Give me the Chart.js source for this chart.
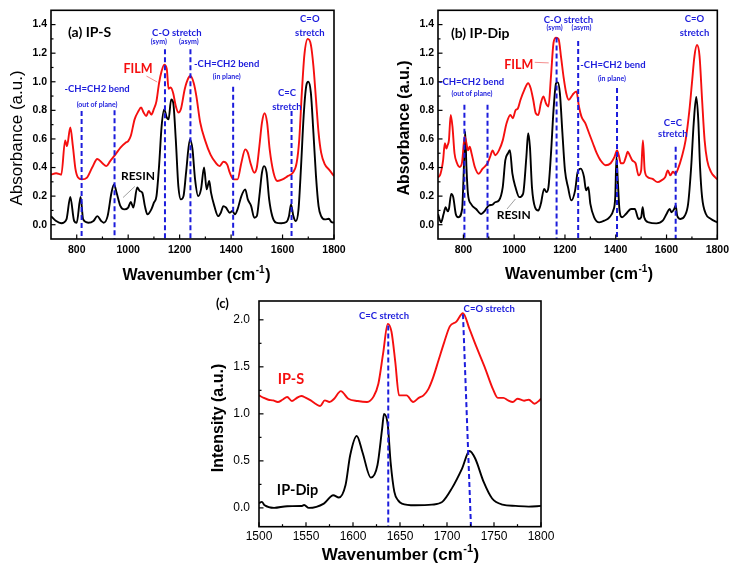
<!DOCTYPE html>
<html><head><meta charset="utf-8">
<script src="https://cdn.jsdelivr.net/npm/chart.js@4/dist/chart.umd.min.js"></script>
<style>
body{margin:0;background:#fff;width:734px;height:576px;position:relative;overflow:hidden}
canvas{position:absolute}
</style>
</head><body>
<canvas id="ca" width="370" height="290" style="left:0;top:0;width:370px;height:290px"></canvas>
<canvas id="cb" width="364" height="290" style="left:370px;top:0;width:364px;height:290px"></canvas>
<canvas id="cc" width="420" height="316" style="left:150px;top:260px;width:420px;height:316px"></canvas>
<script>
// ---------- Panel (a) IP-S : FTIR ----------
const aFilmX = [700,720,740,755,762,775,785,795,805,820,840,860,880,900,915,930,950,970,990,1000,1010,1025,1040,1050,1060,1070,1080,1090,1100,1110,1120,1130,1140,1150,1157,1165,1175,1185,1195,1205,1220,1235,1242,1255,1265,1280,1300,1320,1340,1355,1370,1385,1395,1410,1425,1440,1455,1465,1475,1490,1500,1510,1520,1530,1540,1550,1565,1580,1600,1620,1640,1655,1665,1675,1685,1698,1710,1720,1730,1740,1750,1765,1780,1800];
const aFilmY = [0.35,0.36,0.35,0.59,0.55,0.68,0.55,0.39,0.33,0.317,0.33,0.40,0.46,0.43,0.41,0.445,0.49,0.54,0.574,0.585,0.62,0.737,0.795,0.82,0.785,0.76,0.795,0.77,0.81,0.865,0.99,1.075,1.12,1.09,0.95,0.96,0.92,0.83,0.785,0.81,0.95,1.03,1.04,0.99,0.90,0.715,0.585,0.49,0.434,0.41,0.44,0.42,0.364,0.317,0.317,0.434,0.527,0.504,0.434,0.364,0.40,0.55,0.714,0.78,0.714,0.527,0.364,0.306,0.317,0.34,0.364,0.434,0.597,0.924,1.19,1.30,1.26,1.11,0.877,0.644,0.504,0.42,0.387,0.34];
const aResinX = [700,720,740,760,775,790,800,815,825,845,865,880,895,905,920,935,945,955,970,985,1000,1010,1020,1035,1045,1055,1065,1075,1090,1100,1110,1120,1130,1140,1150,1157,1167,1175,1185,1195,1205,1215,1225,1240,1250,1260,1272,1283,1295,1305,1315,1322,1335,1350,1360,1370,1380,1395,1405,1415,1425,1440,1455,1465,1478,1490,1500,1510,1520,1528,1538,1548,1560,1575,1595,1615,1625,1633,1642,1652,1662,1672,1682,1692,1700,1710,1720,1730,1740,1750,1765,1780,1790,1800];
const aResinY = [0.06,0.026,0.01,0.037,0.194,0.026,0.014,0.194,0.037,0.014,0.026,0.06,0.026,0.014,0.06,0.224,0.282,0.224,0.13,0.107,0.12,0.159,0.12,0.26,0.236,0.224,0.13,0.072,0.107,0.154,0.2,0.41,0.69,0.807,0.75,0.737,0.877,0.854,0.597,0.27,0.177,0.2,0.364,0.597,0.527,0.317,0.2,0.247,0.4,0.247,0.306,0.224,0.13,0.06,0.084,0.13,0.12,0.084,0.096,0.072,0.107,0.2,0.247,0.177,0.13,0.049,0.06,0.2,0.364,0.41,0.364,0.177,0.06,0.014,0.01,0.019,0.06,0.142,0.06,0.026,0.107,0.41,0.76,0.97,1.0,0.924,0.644,0.34,0.13,0.06,0.037,0.042,0.019,0.014];
const aXTicks = [800,1000,1200,1400,1600,1800];
const aXMinor = [900,1100,1300,1500,1700];
const aYTicks = [0,0.2,0.4,0.6,0.8,1.0,1.2,1.4];
const aYMinor = [0.1,0.3,0.5,0.7,0.9,1.1,1.3];
const aMarkX = [819,947,1143,1242,1408,1635];
const aMarkTop = [0.795,0.8,1.227,1.227,0.966,0.795];

// ---------- Panel (b) IP-Dip : FTIR ----------
const bFilmX = [700,710,720,727,733,738,743,750,757,765,775,785,795,805,812,818,825,832,845,860,875,895,905,915,925,940,955,970,985,995,1005,1015,1025,1040,1055,1065,1075,1085,1095,1105,1115,1125,1135,1145,1155,1165,1175,1185,1195,1205,1215,1230,1245,1255,1265,1280,1295,1310,1325,1340,1360,1380,1395,1405,1412,1420,1430,1440,1447,1455,1465,1478,1490,1500,1507,1514,1525,1545,1565,1580,1595,1605,1615,1625,1635,1645,1660,1675,1690,1700,1710,1720,1730,1740,1750,1760,1775,1790,1800];
const bFilmY = [0.33,0.357,0.45,0.57,0.533,0.557,0.59,0.768,0.686,0.50,0.43,0.404,0.44,0.615,0.57,0.52,0.545,0.50,0.404,0.357,0.39,0.43,0.474,0.52,0.486,0.52,0.59,0.71,0.768,0.745,0.80,0.815,0.874,0.944,0.99,0.955,0.874,0.78,0.768,0.85,0.897,0.85,0.827,1.04,1.273,1.308,1.297,1.167,1.027,0.92,0.874,0.909,0.933,0.827,0.756,0.71,0.64,0.57,0.50,0.45,0.416,0.43,0.474,0.52,0.486,0.43,0.43,0.474,0.51,0.486,0.45,0.43,0.345,0.38,0.59,0.38,0.334,0.32,0.298,0.31,0.334,0.38,0.345,0.37,0.357,0.39,0.474,0.59,0.80,0.99,1.18,1.257,1.18,0.874,0.59,0.45,0.37,0.334,0.317];
const bResinX = [700,712,722,730,738,743,752,760,770,780,795,802,807,812,818,830,850,870,885,900,915,925,940,955,965,975,983,993,1005,1020,1035,1048,1055,1062,1070,1082,1095,1105,1118,1127,1135,1145,1155,1165,1172,1180,1190,1200,1212,1225,1240,1250,1262,1275,1283,1292,1300,1315,1335,1355,1375,1390,1398,1403,1408,1415,1425,1440,1460,1475,1490,1500,1506,1512,1530,1560,1585,1600,1612,1620,1630,1636,1642,1655,1672,1685,1697,1707,1717,1725,1732,1740,1755,1775,1800];
const bResinY = [0.075,0.016,0.075,0.122,0.094,0.11,0.216,0.193,0.075,0.052,0.11,0.404,0.65,0.404,0.216,0.146,0.11,0.075,0.099,0.134,0.141,0.157,0.17,0.263,0.45,0.498,0.521,0.357,0.263,0.193,0.216,0.474,0.64,0.545,0.263,0.122,0.099,0.146,0.251,0.228,0.263,0.498,0.803,0.99,0.996,0.92,0.64,0.38,0.263,0.17,0.24,0.369,0.392,0.334,0.24,0.263,0.146,0.052,0.016,0.028,0.052,0.099,0.193,0.474,0.31,0.099,0.052,0.075,0.11,0.11,0.04,0.052,0.122,0.052,0.016,0.009,0.028,0.075,0.11,0.087,0.11,0.134,0.063,0.04,0.063,0.146,0.404,0.71,0.893,0.733,0.404,0.193,0.075,0.04,0.016];
const bXTicks = [800,1000,1200,1400,1600,1800];
const bXMinor = [900,1100,1300,1500,1700];
const bYTicks = [0,0.2,0.4,0.6,0.8,1.0,1.2,1.4];
const bYMinor = [0.1,0.3,0.5,0.7,0.9,1.1,1.3];
const bMarkX = [804,895,1167,1252,1405,1636];
const bMarkTop = [0.84,0.84,1.31,1.285,0.956,0.545];

// ---------- Panel (c) Raman ----------
const cSX = [1500,1505,1510,1515,1520,1525,1530,1535,1540,1545,1550,1555,1560,1565,1570,1575,1580,1587,1595,1605,1615,1622,1627,1632,1637,1641,1645,1649,1657,1664,1670,1675,1680,1685,1691,1697,1703,1710,1717,1724,1731,1740,1749,1754,1760,1765,1770,1775,1782,1787,1793,1798,1800];
const cSY = [1.196,1.17,1.15,1.143,1.126,1.15,1.179,1.136,1.168,1.19,1.17,1.143,1.108,1.083,1.143,1.126,1.161,1.242,1.161,1.136,1.126,1.186,1.32,1.64,1.957,1.87,1.55,1.196,1.196,1.126,1.17,1.196,1.26,1.38,1.57,1.76,1.93,1.98,2.07,1.9,1.72,1.5,1.26,1.17,1.17,1.143,1.126,1.16,1.14,1.15,1.108,1.14,1.161];
const cDX = [1500,1503,1506,1516,1530,1545,1548,1553,1569,1579,1585,1592,1597,1604,1610,1619,1626,1631,1633,1637,1640,1644,1648,1652,1666,1684,1695,1705,1716,1724,1730,1739,1748,1759,1773,1787,1800];
const cDY = [0.05,0.064,0.028,0.0,0.018,0.02,0.03,0.0,0.046,0.134,0.11,0.24,0.56,0.765,0.595,0.322,0.453,0.842,1.0,0.88,0.488,0.17,0.08,0.046,0.028,0.035,0.064,0.205,0.418,0.605,0.525,0.276,0.1,0.035,0.021,0.014,0.021];
const cXTicks = [1500,1550,1600,1650,1700,1750,1800];
const cXMinor = [1525,1575,1625,1675,1725,1775];
const cYTicks = [0,0.5,1.0,1.5,2.0];
const cYMinor = [0.25,0.75,1.25,1.75];

const RED = '#f50f0f', BLACK = '#000000', BLUE = '#1c1cdc';
const pts = (xs, ys) => xs.slice(0, Math.min(xs.length, ys.length)).map((x, i) => ({x, y: ys[i]}));

function drawWav(ctx, cx, cy, size) {
  const f1 = `bold ${size}px "Liberation Sans", Arial`, f2 = `bold ${Math.round(size*0.62)}px "Liberation Sans", Arial`;
  ctx.font = f1; const w1 = ctx.measureText('Wavenumber (cm').width, w3 = ctx.measureText(')').width;
  ctx.font = f2; const w2 = ctx.measureText('-1').width;
  let x = cx - (w1 + w2 + w3) / 2;
  ctx.textBaseline = 'middle'; ctx.textAlign = 'left'; ctx.fillStyle = '#000';
  ctx.font = f1; ctx.fillText('Wavenumber (cm', x, cy); x += w1;
  ctx.font = f2; ctx.fillText('-1', x + 0.5, cy - size * 0.38); x += w2 + 1;
  ctx.font = f1; ctx.fillText(')', x, cy);
}

function overlay(sp) {
  return {
    id: 'ov',
    afterDatasetsDraw(chart) {
      const ctx = chart.ctx, xs = chart.scales.x, ys = chart.scales.y, a = chart.chartArea;
      const X = v => xs.getPixelForValue(v), Y = v => ys.getPixelForValue(v);
      ctx.save();
      (sp.leaders || []).forEach(l => {
        ctx.strokeStyle = l[4]; ctx.lineWidth = 0.8; ctx.beginPath();
        ctx.moveTo(X(l[0]), Y(l[1])); ctx.lineTo(X(l[2]), Y(l[3])); ctx.stroke();
      });
      ctx.strokeStyle = BLUE; ctx.lineWidth = 2; ctx.setLineDash([5, 3]);
      sp.dashes.forEach(d => { ctx.beginPath(); ctx.moveTo(X(d[0]), Y(d[1])); ctx.lineTo(X(d[2]), Y(d[3])); ctx.stroke(); });
      ctx.setLineDash([]);
      ctx.strokeStyle = '#000'; ctx.lineWidth = 1.6;
      ctx.strokeRect(a.left, a.top, a.right - a.left, a.bottom - a.top);
      ctx.lineWidth = 1.2;
      const tk = (vals, len, axis) => vals.forEach(v => {
        ctx.beginPath();
        if (axis === 'x') { const p = X(v); ctx.moveTo(p, a.bottom); ctx.lineTo(p, a.bottom - len); }
        else { const p = Y(v); ctx.moveTo(a.left, p); ctx.lineTo(a.left + len, p); }
        ctx.stroke();
      });
      tk(sp.xMaj, 4.5, 'x'); tk(sp.xMin, 2.5, 'x'); tk(sp.yMaj, 4.5, 'y'); tk(sp.yMin, 2.5, 'y');
      ctx.textBaseline = 'middle';
      sp.texts.forEach(t => {
        ctx.font = t[3]; ctx.fillStyle = t[4]; ctx.textAlign = t[5] || 'center';
        ctx.fillText(t[0], X(t[1]), Y(t[2]));
      });
      ctx.save();
      ctx.translate(sp.yTitle.x, sp.yTitle.y); ctx.rotate(-Math.PI / 2);
      ctx.font = sp.yTitle.font; ctx.fillStyle = '#000'; ctx.textAlign = 'center'; ctx.textBaseline = 'middle';
      ctx.fillText(sp.yTitle.text, 0, 0);
      ctx.restore();
      drawWav(ctx, sp.xTitle.x, sp.xTitle.y, sp.xTitle.size);
      ctx.restore();
    }
  };
}

function make(id, sp) {
  return new Chart(document.getElementById(id), {
    type: 'line',
    data: { datasets: sp.series.map(s => ({
      data: s.data, borderColor: s.color, borderWidth: 1.9, pointRadius: 0,
      cubicInterpolationMode: 'monotone', fill: false })) },
    options: {
      responsive: false, animation: false, devicePixelRatio: 1,
      layout: { padding: sp.pad },
      plugins: { legend: { display: false }, tooltip: { enabled: false } },
      scales: {
        x: { type: 'linear', min: sp.xr[0], max: sp.xr[1],
          afterBuildTicks: s => { s.ticks = sp.xMaj.map(v => ({value: v})); },
          afterFit: s => { s.height = sp.xh; },
          grid: { display: false, drawTicks: false }, border: { display: false },
          ticks: { font: sp.tickFont, color: '#000', padding: sp.xpad, maxRotation: 0, autoSkip: false,
                   callback: v => String(v) } },
        y: { type: 'linear', min: sp.yr[0], max: sp.yr[1],
          afterBuildTicks: s => { s.ticks = sp.yMaj.map(v => ({value: v})); },
          afterFit: s => { s.width = sp.yw; },
          grid: { display: false, drawTicks: false }, border: { display: false },
          ticks: { font: sp.tickFont, color: '#000', padding: sp.ypad, autoSkip: false,
                   callback: v => Number(v).toFixed(1) } }
      }
    },
    plugins: [overlay(sp)]
  });
}

const bl = s => `bold ${s}px Lato, "Open Sans", sans-serif`;
const tickBold = { family: '"Liberation Sans", Arial', size: 10.5, weight: 'bold' };

make('ca', {
  series: [{ data: pts(aFilmX, aFilmY), color: RED }, { data: pts(aResinX, aResinY), color: BLACK }],
  xr: [700, 1800], yr: [-0.1, 1.5], xMaj: aXTicks, xMin: aXMinor, yMaj: aYTicks, yMin: aYMinor,
  pad: { left: 0, top: 10, right: 36, bottom: 0 }, xh: 51, yw: 51, xpad: 5, ypad: 4, tickFont: tickBold,
  dashes: aMarkX.map((x, i) => [x, aMarkTop[i], x, -0.1]),
  leaders: [[1071, 1.04, 1113, 0.998, '#f07070'], [1026, 0.268, 980, 0.19, '#888888']],
  texts: [
    ['(a) IP-S', 766, 1.345, bl(14), BLACK, 'left'],
    ['C-O stretch', 1189, 1.345, bl(9.5), BLUE], ['(sym)', 1119, 1.283, bl(7), BLUE], ['(asym)', 1236, 1.283, bl(7), BLUE],
    ['FILM', 1038, 1.087, bl(12.5), RED],
    ['-CH=CH2 bend', 879, 0.947, bl(9.5), BLUE], ['(out of plane)', 879, 0.842, bl(7), BLUE],
    ['-CH=CH2 bend', 1383, 1.128, bl(9.5), BLUE], ['(in plane)', 1383, 1.038, bl(7), BLUE],
    ['C=C', 1617, 0.919, bl(9.5), BLUE], ['stretch', 1617, 0.821, bl(9.5), BLUE],
    ['C=O', 1706, 1.437, bl(9.5), BLUE], ['stretch', 1706, 1.345, bl(9.5), BLUE],
    ['RESIN', 1038, 0.338, bl(12), BLACK]
  ],
  yTitle: { text: 'Absorbance (a.u.)', x: 17, y: 138, font: '17px "Liberation Sans", Arial' },
  xTitle: { x: 196, y: 276, size: 16 }
});

make('cb', {
  series: [{ data: pts(bFilmX, bFilmY), color: RED }, { data: pts(bResinX, bResinY), color: BLACK }],
  xr: [700, 1800], yr: [-0.1, 1.5], xMaj: bXTicks, xMin: bXMinor, yMaj: bYTicks, yMin: bYMinor,
  pad: { left: 0, top: 10, right: 14.5, bottom: 0 }, xh: 51, yw: 68, xpad: 5, ypad: 4, tickFont: tickBold,
  dashes: bMarkX.map((x, i) => [x, bMarkTop[i], x, -0.1]),
  leaders: [[1081, 1.136, 1136, 1.132, '#f07070'], [972, 0.11, 1005, 0.18, '#888888']],
  texts: [
    ['(b) IP-Dip', 751, 1.335, bl(14), BLACK, 'left'],
    ['C-O stretch', 1214, 1.43, bl(9.5), BLUE], ['(sym)', 1159, 1.378, bl(7), BLUE], ['(asym)', 1265, 1.378, bl(7), BLUE],
    ['FILM', 1018, 1.12, bl(12.5), RED],
    ['-CH=CH2 bend', 832, 1.0, bl(9.5), BLUE], ['(out of plane)', 834, 0.916, bl(7), BLUE],
    ['-CH=CH2 bend', 1389, 1.12, bl(9.5), BLUE], ['(in plane)', 1385, 1.022, bl(7), BLUE],
    ['C=C', 1625, 0.715, bl(9.5), BLUE], ['stretch', 1625, 0.635, bl(9.5), BLUE],
    ['C=O', 1710, 1.438, bl(9.5), BLUE], ['stretch', 1710, 1.344, bl(9.5), BLUE],
    ['RESIN', 998, 0.07, bl(12), BLACK]
  ],
  yTitle: { text: 'Absorbance (a.u.)', x: 35, y: 128, font: 'bold 16px "Liberation Sans", Arial' },
  xTitle: { x: 208.6, y: 275, size: 16 }
});

make('cc', {
  series: [{ data: pts(cSX, cSY), color: RED }, { data: pts(cDX, cDY), color: BLACK }],
  xr: [1500, 1800], yr: [-0.2, 2.2], xMaj: cXTicks, xMin: cXMinor, yMaj: cYTicks, yMin: cYMinor,
  pad: { left: 0, top: 41, right: 29, bottom: 0 }, xh: 49.3, yw: 109, xpad: 3, ypad: 9,
  tickFont: { family: '"Liberation Sans", Arial', size: 12 },
  dashes: [[1637.5, 1.94, 1637.5, -0.2], [1717, 2.06, 1725.5, -0.2]],
  leaders: [],
  texts: [
    ['(c)', 1461, 2.174, bl(13), BLACK],
    ['C=C stretch', 1633, 2.046, bl(9.5), BLUE], ['C=O stretch', 1745, 2.12, bl(9.5), BLUE],
    ['IP-S', 1534, 1.37, bl(14.5), RED], ['IP-Dip', 1541, 0.19, bl(14.5), BLACK]
  ],
  yTitle: { text: 'Intensity (a.u.)', x: 69, y: 158, font: 'bold 16px "Liberation Sans", Arial' },
  xTitle: { x: 250, y: 295, size: 17 }
});
</script>
</body></html>
